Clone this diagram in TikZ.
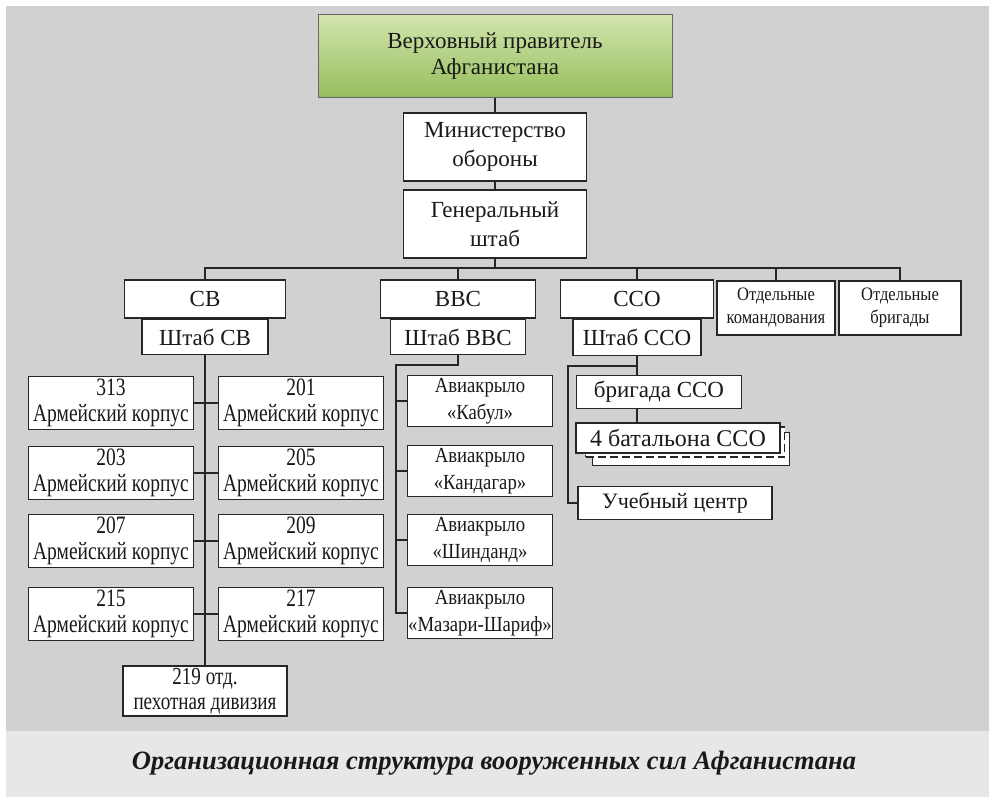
\documentclass[tikz,border=0pt]{standalone}
\usepackage{fontspec}
\setmainfont{Liberation Serif}
\newfontfamily\narrowfont{Liberation Serif}[FakeStretch=0.78]
\newfontfamily\slimfont{Liberation Serif}[FakeStretch=0.87]
\usetikzlibrary{positioning}
\definecolor{PanelGray}{HTML}{D1D1D1}
\definecolor{CaptionGray}{HTML}{E6E7E9}
\definecolor{RulerTop}{HTML}{D3E6AE}
\definecolor{RulerBottom}{HTML}{95BD5C}
\definecolor{LineGray}{HTML}{262626}
\begin{document}
\begin{tikzpicture}[x=1pt, y=-1pt, every node/.style={text=black!90}, unit/.style={draw=LineGray,line width=1.4pt,fill=white,align=center,inner sep=1pt,font=\fontsize{23}{29}\selectfont}, corps/.style={unit,minimum width=165pt,minimum height=53pt,font=\narrowfont\fontsize{25}{26}\selectfont}, wing/.style={unit,minimum width=145pt,minimum height=51pt,font=\slimfont\fontsize{21.5}{27}\selectfont}, link/.style={draw=LineGray,line width=1.3pt}]
\useasboundingbox (0,0) rectangle (989,797);
\fill[white] (0,0) rectangle (989,797);
\fill[PanelGray] (6,6) rectangle (989,731);
\fill[CaptionGray] (6,731) rectangle (989,797);
% command chain
\node[unit,minimum width=354pt,minimum height=83pt,top color=RulerTop,bottom color=RulerBottom,draw=black!60,line width=1pt,font=\fontsize{23}{26}\selectfont] (ruler) at (495,56) {Верховный правитель\\Афганистана};
\node[unit,minimum width=183pt,minimum height=68pt] (mod) at (495,147) {Министерство\\обороны};
\node[unit,minimum width=183pt,minimum height=68pt] (gs) at (495,224) {Генеральный\\штаб};
\draw[link] (ruler) -- (mod);
\draw[link] (mod) -- (gs);
% services
\node[unit,minimum width=161pt,minimum height=38pt] (sv) at (205,299) {СВ};
\node[unit,minimum width=126pt,minimum height=35pt,below=0pt of sv] (svhq) {Штаб СВ};
\node[unit,minimum width=155pt,minimum height=38pt] (vvs) at (458,299) {ВВС};
\node[unit,minimum width=135pt,minimum height=35pt,below=0pt of vvs] (vvshq) {Штаб ВВС};
\node[unit,minimum width=153pt,minimum height=38pt] (sso) at (637,299) {ССО};
\node[unit,minimum width=128pt,minimum height=36pt,below=0pt of sso] (ssohq) {Штаб ССО};
\node[unit,minimum width=118pt,minimum height=54pt,font=\slimfont\fontsize{19}{23}\selectfont] (sepcmd) at (776,308) {Отдельные\\командования};
\node[unit,minimum width=122pt,minimum height=54pt,font=\slimfont\fontsize{19}{23}\selectfont] (sepbde) at (900,308) {Отдельные\\бригады};
\coordinate (bus) at (495,268);
\draw[link] (gs) -- (bus);
\draw[link] (sv.north) |- (bus) -| (sepbde.north);
\draw[link] (vvs.north) -- (vvs.north |- bus);
\draw[link] (sso.north) -- (sso.north |- bus);
\draw[link] (sepcmd.north) -- (sepcmd.north |- bus);
% army corps
\node[corps] (c313) at (111,403) {313\\Армейский корпус};
\node[corps] (c201) at (301,403) {201\\Армейский корпус};
\node[corps] (c203) at (111,473) {203\\Армейский корпус};
\node[corps] (c205) at (301,473) {205\\Армейский корпус};
\node[corps] (c207) at (111,541) {207\\Армейский корпус};
\node[corps] (c209) at (301,541) {209\\Армейский корпус};
\node[corps] (c215) at (111,614) {215\\Армейский корпус};
\node[corps] (c217) at (301,614) {217\\Армейский корпус};
\node[unit,minimum width=164pt,minimum height=50pt,font=\narrowfont\fontsize{24.5}{25}\selectfont] (div219) at (205,691) {219 отд.\\пехотная дивизия};
\draw[link] (svhq) -- (div219);
\draw[link] (c313) -- (c201);
\draw[link] (c203) -- (c205);
\draw[link] (c207) -- (c209);
\draw[link] (c215) -- (c217);
% air wings
\node[wing] (kabul) at (480,401) {Авиакрыло\\«Кабул»};
\node[wing] (kandahar) at (480,471) {Авиакрыло\\«Кандагар»};
\node[wing] (shindand) at (480,540) {Авиакрыло\\«Шинданд»};
\node[wing] (mazar) at (480,613) {Авиакрыло\\«Мазари-Шариф»};
\coordinate (vvsbr) at (396,365);
\draw[link] (vvshq.south) |- (vvsbr) |- (mazar.west);
\draw[link] (kabul.west) -- (kabul.west -| vvsbr);
\draw[link] (kandahar.west) -- (kandahar.west -| vvsbr);
\draw[link] (shindand.west) -- (shindand.west -| vvsbr);
% special forces
\node[unit,minimum width=165pt,minimum height=33pt] (ssobde) at (659,392) {бригада ССО};
\node[unit,minimum width=197pt,minimum height=33pt] (bnback2) at (691,449) {};
\node[unit,dash pattern=on 8pt off 4pt,minimum width=199pt,minimum height=30pt] (bnback1) at (685,442) {};
\node[unit,minimum width=204pt,minimum height=30pt,font=\fontsize{24}{25}\selectfont] (ssobn) at (678,438) {4 батальона ССО};
\node[unit,minimum width=194pt,minimum height=33pt,font=\fontsize{22}{24}\selectfont] (ssotc) at (675,503) {Учебный центр};
\coordinate (ssobr) at (568,366);
\draw[link] (ssohq.south) -- (ssohq.south |- ssobde.north);
\draw[link] (ssobde.south -| ssohq.south) -- (ssobn.north -| ssohq.south);
\draw[link] (ssohq.south |- ssobr) -- (ssobr) |- (ssotc.west);
% caption
\node[font=\bfseries\itshape\fontsize{26.5}{30}\selectfont] (caption) at (494,763) {Организационная структура вооруженных сил Афганистана};
\end{tikzpicture}
\end{document}
